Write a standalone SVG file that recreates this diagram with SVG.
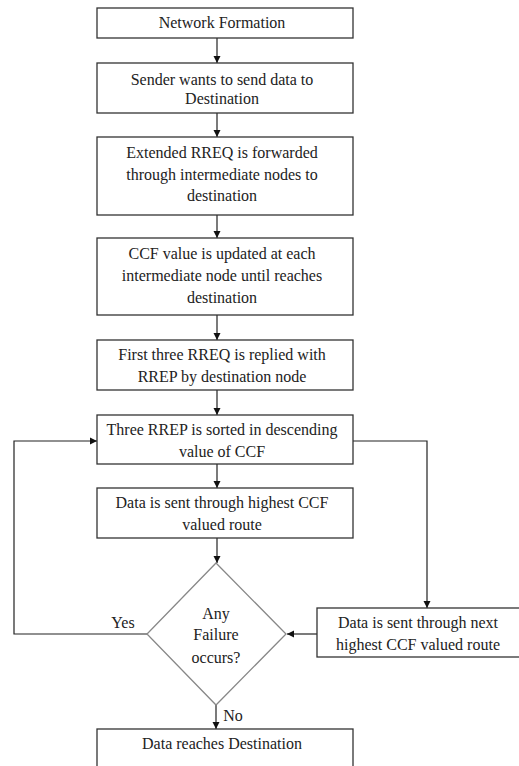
<svg xmlns="http://www.w3.org/2000/svg" width="519" height="766" viewBox="0 0 519 766">
<defs>
<marker id="ah" markerWidth="8" markerHeight="8" refX="7" refY="4" orient="auto" markerUnits="userSpaceOnUse">
<path d="M0,0.5 L7,4 L0,7.5 Z" fill="#111"/>
</marker>
</defs>
<style>
.box{fill:#fff;stroke:#333;stroke-width:1.3}
.dia{fill:#fff;stroke:#888;stroke-width:1.3}
.t{font-family:"Liberation Serif","Times New Roman","DejaVu Serif",serif;font-size:16px;fill:#222;text-anchor:middle}
.c{fill:none;stroke:#222;stroke-width:1.2;marker-end:url(#ah)}
</style>
<rect width="519" height="766" fill="#fff"/>
<g id="connectors">
<line class="c" x1="217" y1="38" x2="217" y2="63"/>
<line class="c" x1="217" y1="113" x2="217" y2="137"/>
<line class="c" x1="217" y1="215" x2="217" y2="238"/>
<line class="c" x1="217" y1="315" x2="217" y2="340"/>
<line class="c" x1="217" y1="390" x2="217" y2="415"/>
<line class="c" x1="217" y1="464" x2="217" y2="488"/>
<line class="c" x1="217" y1="538" x2="217" y2="563"/>
<line class="c" x1="216" y1="705" x2="216" y2="729"/>
<polyline class="c" points="147,634 14,634 14,441 97,441"/>
<polyline class="c" points="353,441 427,441 427,608"/>
<line class="c" x1="317" y1="634" x2="287" y2="634"/>
</g>
<g id="n1"><rect class="box" x="97" y="8" width="256" height="30"/><text class="t" x="222" y="28">Network Formation</text></g>
<g id="n2"><rect class="box" x="97" y="63" width="256" height="50"/><text class="t" x="222" y="85">Sender wants to send data to</text><text class="t" x="222" y="104">Destination</text></g>
<g id="n3"><rect class="box" x="97" y="137" width="256" height="78"/><text class="t" x="222" y="158">Extended RREQ is forwarded</text><text class="t" x="222" y="180">through intermediate nodes to</text><text class="t" x="222" y="201">destination</text></g>
<g id="n4"><rect class="box" x="97" y="238" width="256" height="77"/><text class="t" x="222" y="259">CCF value is updated at each</text><text class="t" x="222" y="281">intermediate node until reaches</text><text class="t" x="222" y="303">destination</text></g>
<g id="n5"><rect class="box" x="97" y="340" width="256" height="50"/><text class="t" x="222" y="360">First three RREQ is replied with</text><text class="t" x="222" y="382">RREP by destination node</text></g>
<g id="n6"><rect class="box" x="97" y="415" width="256" height="49"/><text class="t" x="222" y="435">Three RREP is sorted in descending</text><text class="t" x="222" y="457">value of CCF</text></g>
<g id="n7"><rect class="box" x="97" y="488" width="256" height="50"/><text class="t" x="222" y="508">Data is sent through highest CCF</text><text class="t" x="222" y="530">valued route</text></g>
<g id="n8"><polygon class="dia" points="216,563 286,634 216,705 147,634"/><text class="t" x="216" y="619">Any</text><text class="t" x="216" y="640">Failure</text><text class="t" x="216" y="663">occurs?</text></g>
<g id="n9"><rect class="box" x="317" y="608" width="203" height="49"/><text class="t" x="418" y="628">Data is sent through next</text><text class="t" x="418" y="650">highest CCF valued route</text></g>
<g id="n10"><rect class="box" x="97" y="729" width="256" height="50"/><text class="t" x="222" y="749">Data reaches Destination</text></g>
<text class="t" x="123" y="628">Yes</text>
<text class="t" x="233" y="721">No</text>
</svg>
